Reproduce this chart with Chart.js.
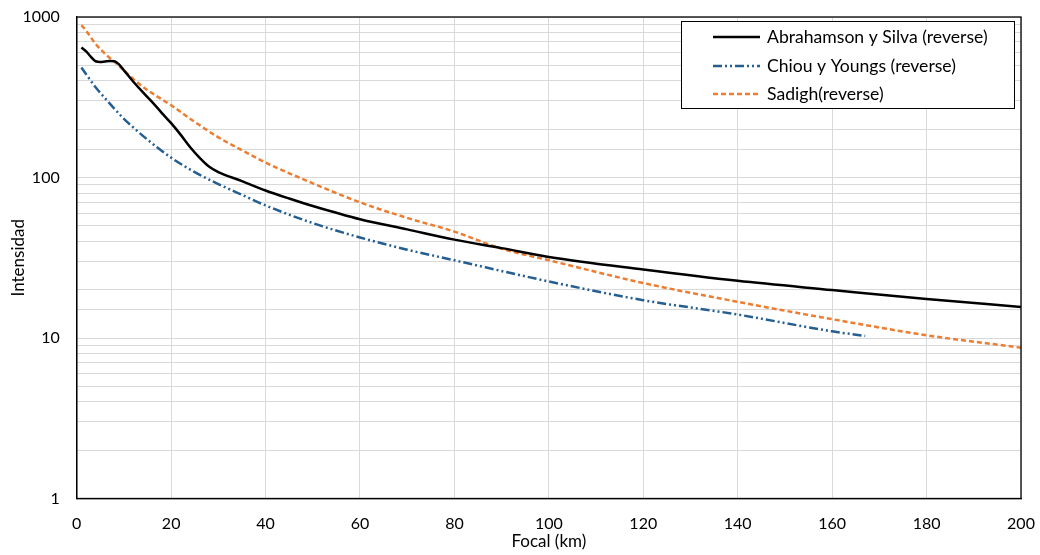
<!DOCTYPE html>
<html>
<head>
<meta charset="utf-8">
<script src="https://cdn.jsdelivr.net/npm/chart.js@4"></script>
<style>
  html, body { margin: 0; padding: 0; background: #fff; }
  #wrap { width: 1040px; height: 555px; }
</style>
</head>
<body>
<div id="wrap"><canvas id="chart" width="1040" height="555"></canvas></div>
<script>
// ---------------- DATA ----------------
const abraDist = [1, 2, 3, 4, 5, 6, 7, 8, 9, 10, 12, 14, 16, 18, 20, 22, 24, 26, 28, 30, 35, 40, 45, 50, 60, 70, 80, 90, 100, 120, 140, 160, 180, 200];
const abraVals = [645, 610, 565, 530, 525, 528, 531, 530, 505, 465, 395, 340, 295, 253, 218, 185, 155, 133, 117, 108, 95, 83, 74, 66.5, 55, 47.5, 41, 36.3, 32, 26.7, 22.7, 19.9, 17.5, 15.6];

const chiouDist = [1, 2, 4, 6, 8, 10, 12, 15, 20, 25, 30, 35, 40, 50, 60, 70, 80, 100, 120, 140, 160, 167];
const chiouVals = [485, 440, 365, 312, 268, 232, 205, 172, 133, 108, 91, 78, 67, 52, 42.3, 35.5, 30.5, 22.5, 17.2, 14.0, 11.0, 10.3];

const sadighDist = [1, 2, 4, 6, 8, 10, 12, 15, 20, 25, 30, 35, 40, 50, 60, 70, 80, 90, 100, 120, 140, 160, 180, 200];
const sadighVals = [890, 820, 680, 590, 525, 465, 410, 350, 282, 222, 178, 148, 124, 92, 70, 56, 46, 36, 30.5, 22, 16.8, 13.1, 10.4, 8.7];

const seriesNames = ["Abrahamson y Silva (reverse)", "Chiou y Youngs (reverse)", "Sadigh(reverse)"];
const xTicks = [0, 20, 40, 60, 80, 100, 120, 140, 160, 180, 200];
const yTickLabels = [1, 10, 100, 1000];

function toPoints(xs, ys) {
  return xs.map((x, i) => ({ x: x, y: ys[i] }));
}

const FONT = "Lato, 'Open Sans', sans-serif";

// ---------------- PLUGINS ----------------
const frame = {
  id: "frame",
  afterDraw(chart) {
    const a = chart.chartArea;
    const ctx = chart.ctx;
    ctx.save();
    ctx.strokeStyle = "#000";
    ctx.lineWidth = 1.3;
    ctx.strokeRect(a.left, a.top, a.right - a.left, a.bottom - a.top);
    ctx.restore();
  }
};

const boxLegend = {
  id: "boxLegend",
  afterDraw(chart) {
    const ctx = chart.ctx;
    const x0 = 681, y0 = 21, w = 333, h = 87;
    ctx.save();
    ctx.fillStyle = "#fff";
    ctx.fillRect(x0, y0, w, h);
    ctx.strokeStyle = "#000";
    ctx.lineWidth = 1;
    ctx.strokeRect(x0 + 0.5, y0 + 0.5, w, h);
    const rows = [37, 66, 94];
    chart.data.datasets.forEach((ds, i) => {
      const y = rows[i];
      ctx.beginPath();
      ctx.strokeStyle = ds.borderColor;
      ctx.lineWidth = ds.borderWidth;
      ctx.setLineDash(ds.borderDash || []);
      ctx.moveTo(713, y);
      ctx.lineTo(760, y);
      ctx.stroke();
      ctx.setLineDash([]);
      ctx.fillStyle = "#000";
      ctx.font = "17.6px " + FONT;
      ctx.textBaseline = "middle";
      ctx.fillText(ds.label, 767, y);
    });
    ctx.restore();
  }
};

// ---------------- CHART ----------------
const ctx = document.getElementById("chart");

new Chart(ctx, {
  type: "line",
  data: {
    datasets: [
      {
        label: seriesNames[0],
        data: toPoints(abraDist, abraVals),
        borderColor: "#000000",
        borderWidth: 2.5,
        pointRadius: 0,
        cubicInterpolationMode: "monotone",
        fill: false
      },
      {
        label: seriesNames[1],
        data: toPoints(chiouDist, chiouVals),
        borderColor: "#255E91",
        borderWidth: 2.5,
        borderDash: [9, 3, 2, 3, 2, 3],
        pointRadius: 0,
        cubicInterpolationMode: "monotone",
        fill: false
      },
      {
        label: seriesNames[2],
        data: toPoints(sadighDist, sadighVals),
        borderColor: "#ED7D31",
        borderWidth: 2.5,
        borderDash: [5, 3],
        pointRadius: 0,
        cubicInterpolationMode: "monotone",
        fill: false
      }
    ]
  },
  options: {
    responsive: false,
    animation: false,
    layout: { padding: { left: 0, right: 19, top: 17, bottom: 0 } },
    plugins: {
      legend: { display: false },
      tooltip: { enabled: false }
    },
    scales: {
      x: {
        type: "linear",
        min: 0,
        max: 200,
        afterBuildTicks: (scale) => { scale.ticks = xTicks.map(v => ({ value: v })); },
        grid: { color: "#d9d9d9", lineWidth: 1, drawTicks: false },
        border: { color: "#000", width: 1.3 },
        ticks: { color: "#000", font: { family: FONT, size: 16 }, padding: 16, maxRotation: 0 },
        title: { display: true, text: "Focal (km)", color: "#000", font: { family: FONT, size: 17 }, padding: { top: 0, bottom: 3 } },
        afterFit: (scale) => {
          scale.height = 56.5;
          scale.paddingLeft = 0;
          scale.paddingRight = 0;
        }
      },
      y: {
        type: "logarithmic",
        min: 1,
        max: 1000,
        grid: { color: "#d9d9d9", lineWidth: 1, drawTicks: false },
        border: { color: "#000", width: 1.3 },
        ticks: {
          color: "#000",
          autoSkip: false,
          font: { family: FONT, size: 16 },
          padding: 17,
          callback: (v) => yTickLabels.includes(v) ? String(v) : ""
        },
        title: { display: true, text: "Intensidad", color: "#000", font: { family: FONT, size: 17 }, padding: { top: 8, bottom: 0 } },
        afterFit: (scale) => {
          scale.width = 76.7;
          scale.paddingTop = 0;
          scale.paddingBottom = 0;
        }
      }
    }
  },
  plugins: [frame, boxLegend]
});
</script>
</body>
</html>
